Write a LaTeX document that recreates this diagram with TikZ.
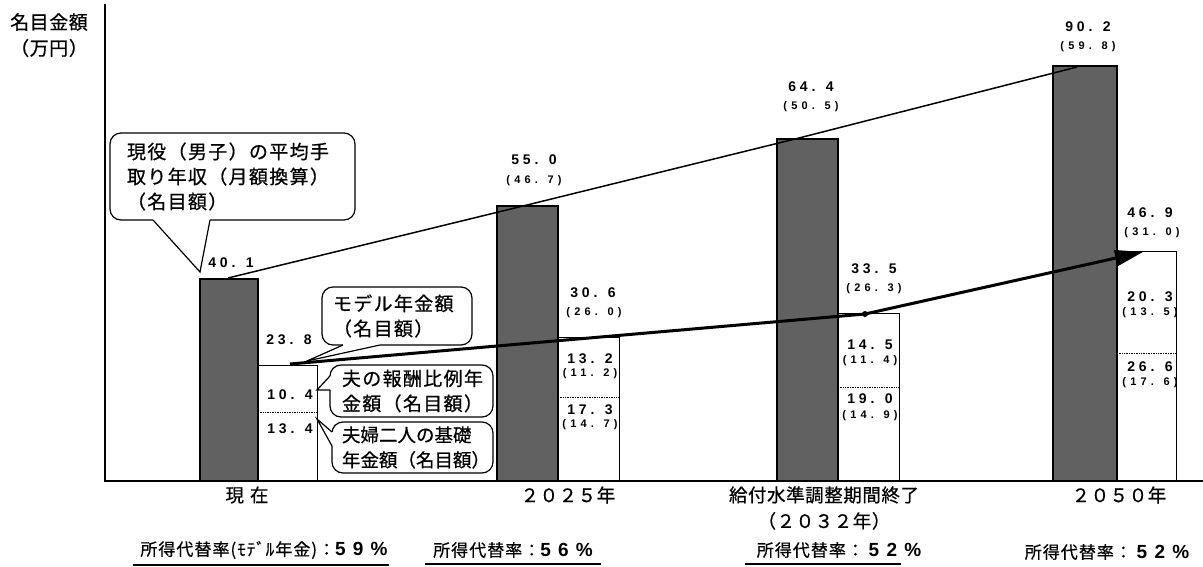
\documentclass[tikz,border=0pt]{standalone}
\usepackage{fontspec}
\setmainfont{Noto Sans CJK JP}[FakeBold=0.6]
\newfontfamily\jpA[LetterSpace=7,FakeBold=0.6]{Noto Sans CJK JP}
\newfontfamily\jpB[LetterSpace=0,FakeBold=0.6]{Noto Sans CJK JP}
\newfontfamily\jpC[LetterSpace=3,FakeBold=0.6]{Noto Sans CJK JP}
\newfontfamily\jpR[LetterSpace=6,FakeBold=0.6]{Noto Sans CJK JP}
\newfontfamily\numf[LetterSpace=28]{Liberation Sans}
\newfontfamily\numP[LetterSpace=38]{Liberation Sans}
\newfontfamily\pctf[LetterSpace=38]{Liberation Sans}
\usetikzlibrary{arrows.meta,calc}
\newcommand\pct[1]{{\pctf\bfseries\fontsize{19}{19}\selectfont #1}}
\newcommand\callptr[3]{%
  \draw[white, line width=2.6pt] (#1) -- (#3);
  \draw[line width=1.2pt, line join=miter] (#1) -- (#2) -- (#3);}
\tikzset{
  darkbar/.style={fill=black!62, draw=black, line width=1.8pt},
  whitebar/.style={fill=white, draw=black, line width=1pt},
  divider/.style={densely dotted, line width=0.7pt},
  axisline/.style={line width=1.2pt},
  wage/.style={line width=1.5pt},
  pension/.style={line width=3pt, -{Triangle[length=28pt,width=16pt]}},
  callbox/.style={draw, line width=1.2pt, rounded corners=11pt, fill=white, inner xsep=11pt, inner ysep=0pt, align=left, font=\jpA\fontsize{19}{25}\selectfont},
  num/.style={inner sep=0pt, font=\numf\bfseries\fontsize{14}{14}\selectfont},
  pnum/.style={inner sep=0pt, font=\numP\bfseries\fontsize{11}{11}\selectfont},
  cat/.style={inner sep=0pt, font=\jpC\fontsize{18.5}{26}\selectfont, align=center},
  ylab/.style={inner sep=0pt, font=\jpC\fontsize{19}{19}\selectfont},
  rate/.style={inner sep=0pt, font=\jpR\fontsize{17}{17}\selectfont},
  uline/.style={line width=1.4pt},
}
\begin{document}
\begin{tikzpicture}[x=1pt,y=-1pt]
\useasboundingbox (0,0) rectangle (1203,566);

% white bars (model pension)
\draw[whitebar] (258,481) rectangle (317,365);
\draw[divider] (258,412) -- (317,412);
\draw[whitebar] (558,481) rectangle (619,337);
\draw[divider] (558,397) -- (619,397);
\draw[whitebar] (838,481) rectangle (899,313);
\draw[divider] (838,387) -- (899,387);
\draw[whitebar] (1117,481) rectangle (1176,251);
\draw[divider] (1117,353) -- (1176,353);

% dark bars (wages)
\draw[darkbar] (200,481) rectangle (258,279);
\draw[darkbar] (497,481) rectangle (558,206);
\draw[darkbar] (777,481) rectangle (838,139);
\draw[darkbar] (1053,481) rectangle (1117,66);

% axes
\coordinate (ytop) at (105,4);
\coordinate (orig) at (105,481);
\coordinate (xend) at (1203,481);
\draw[axisline] (ytop) -- (orig) -- (xend);

% wage line
\coordinate (w1) at (228,278);
\coordinate (w2) at (523,206);
\coordinate (w3) at (795,139);
\coordinate (w4) at (1077,67);
\draw[wage] (w1) -- (w2) -- (w3) -- (w4);

% pension line
\coordinate (p1) at (290,364);
\coordinate (p2) at (865,314);
\coordinate (p3) at (1143,252);
\draw[pension] (p1) -- (p2) -- (p3);
\fill (p2) circle (3pt);

% y label
\node[ylab] (yl1) at (49,22) {名目金額};
\node[ylab] (yl2) at (49,48) {（万円）};

% callouts
\node[callbox, inner xsep=17pt, minimum width=245pt, minimum height=87pt, text width=211pt] (cw) at (232.5,176.5) {現役（男子）の平均手\\取り年収（月額換算）\\（名目額）};
\coordinate (cwA) at (153,220);
\coordinate (cwT) at (200,272);
\coordinate (cwB) at (210,220);
\callptr{cwA}{cwT}{cwB}

\node[callbox, minimum width=150pt, minimum height=58pt, text width=128pt] (cm) at (397,316) {モデル年金額\\（名目額）};
\coordinate (cmA) at (343,345);
\coordinate (cmT) at (307,361);
\coordinate (cmB) at (380,345);
\callptr{cmA}{cmT}{cmB}

\node[callbox, inner xsep=12pt, minimum width=163pt, minimum height=52pt, text width=139pt] (ch) at (411.5,391) {夫の報酬比例年\\金額（名目額）};
\coordinate (chA) at (330,376);
\coordinate (chT) at (317,390);
\coordinate (chB) at (330,390);
\callptr{chA}{chT}{chB}

\node[callbox, font=\jpB\fontsize{18.5}{25}\selectfont, inner xsep=10pt, minimum width=161pt, minimum height=51pt, text width=141pt] (cb) at (412.5,447.5) {夫婦二人の基礎\\年金額（名目額）};
\coordinate (cbA) at (332,432);
\coordinate (cbT) at (317,419);
\coordinate (cbB) at (332,446);
\callptr{cbA}{cbT}{cbB}

% values: current
\node[num] (n11) at (231,263) {40. 1};
\node[num] (n12) at (289,340) {23. 8};
\node[num] (n13) at (290,395) {10. 4};
\node[num] (n14) at (290,429) {13. 4};
% 2025
\node[num] (n21) at (534,160) {55. 0};
\node[pnum] (n21p) at (534,181) {(46. 7)};
\node[num] (n22) at (593,293) {30. 6};
\node[pnum] (n22p) at (594,313) {(26. 0)};
\node[num] (n23) at (590,359) {13. 2};
\node[pnum] (n23p) at (590,374) {(11. 2)};
\node[num] (n24) at (590,410) {17. 3};
\node[pnum] (n24p) at (590,425) {(14. 7)};
% 2032
\node[num] (n31) at (811,87) {64. 4};
\node[pnum] (n31p) at (811,107) {(50. 5)};
\node[num] (n32) at (874,269) {33. 5};
\node[pnum] (n32p) at (874,289) {(26. 3)};
\node[num] (n33) at (870,345) {14. 5};
\node[pnum] (n33p) at (870,361) {(11. 4)};
\node[num] (n34) at (870,399) {19. 0};
\node[pnum] (n34p) at (870,416) {(14. 9)};
% 2050
\node[num] (n41) at (1088,27) {90. 2};
\node[pnum] (n41p) at (1088,47) {(59. 8)};
\node[num] (n42) at (1150,213) {46. 9};
\node[pnum] (n42p) at (1152,233) {(31. 0)};
\node[num] (n43) at (1150,297) {20. 3};
\node[pnum] (n43p) at (1150,313) {(13. 5)};
\node[num] (n44) at (1150,367) {26. 6};
\node[pnum] (n44p) at (1150,383) {(17. 6)};

% categories
\node[cat] (c1) at (247,495) {現\hspace{6pt}在};
\node[cat] (c2) at (568,495) {２０２５年};
\node[cat] (c3) at (824,508) {給付水準調整期間終了\\（２０３２年）};
\node[cat] (c4) at (1119,495) {２０５０年};

% replacement rates
\node[rate] (r1) at (264,550) {所得代替率(ﾓﾃﾞﾙ年金)：\pct{59\%}};
\node[rate] (r2) at (513,550) {所得代替率：\pct{56\%}};
\node[rate] (r3) at (839,550) {所得代替率：~\pct{52\%}};
\node[rate] (r4) at (1107,552) {所得代替率：~\pct{52\%}};
\draw[uline] ([xshift=-7pt,yshift=-6pt]r1.south west) -- ([xshift=1pt,yshift=-6pt]r1.south east);
\draw[uline] ([xshift=-8pt,yshift=-6pt]r2.south west) -- ([xshift=8pt,yshift=-6pt]r2.south east);
\draw[uline] ([xshift=-12pt,yshift=-6pt]r3.south west) -- ([xshift=-20pt,yshift=-6pt]r3.south east);
\end{tikzpicture}
\end{document}
